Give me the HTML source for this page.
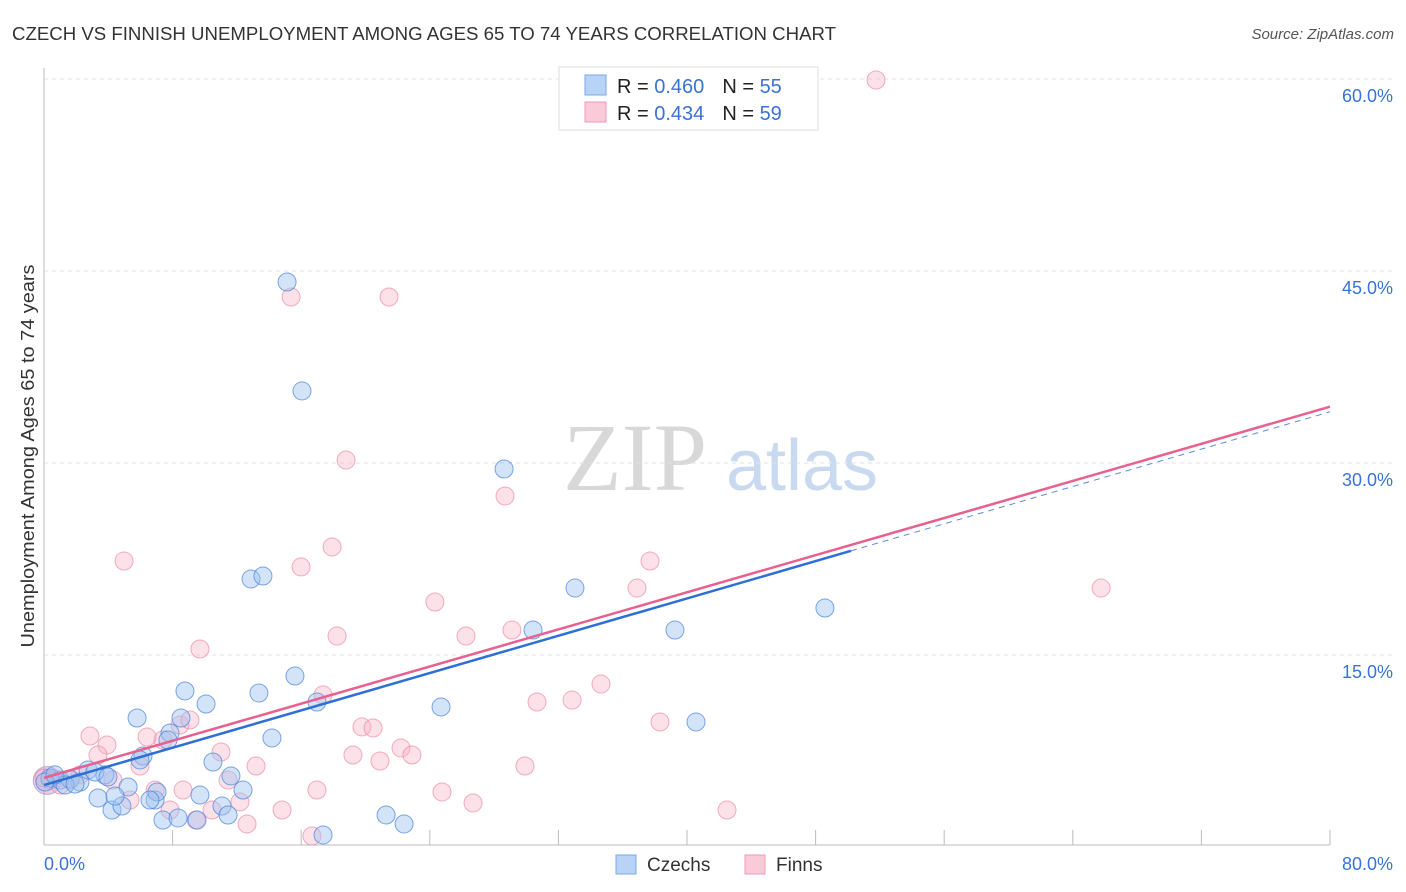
<!DOCTYPE html>
<html><head><meta charset="utf-8"><style>
body{margin:0;background:#fff;font-family:"Liberation Sans",sans-serif}
svg{display:block}
</style></head><body>
<svg width="1406" height="892" viewBox="0 0 1406 892">
<text x="12" y="40" font-size="18" fill="#333" textLength="824" lengthAdjust="spacingAndGlyphs">CZECH VS FINNISH UNEMPLOYMENT AMONG AGES 65 TO 74 YEARS CORRELATION CHART</text>
<text x="1394" y="39" font-size="15" fill="#555" font-style="italic" text-anchor="end">Source: ZipAtlas.com</text>
<g>
<text x="635" y="490" font-size="96" font-family="Liberation Serif,serif" fill="#d8d8d8" text-anchor="middle">ZIP</text>
<text x="802" y="490" font-size="72" fill="#c9d9f0" text-anchor="middle">atlas</text>
</g>
<g id="grid"></g>
<g id="axes"></g>
<g id="marks"></g>
<text transform="translate(34,456) rotate(-90)" font-size="18" fill="#333" text-anchor="middle" textLength="383" lengthAdjust="spacingAndGlyphs">Unemployment Among Ages 65 to 74 years</text>
<g>
<rect x="559" y="67" width="259" height="63" fill="#fff" stroke="#ddd"/>
<rect x="585" y="75" width="21" height="20" fill="#b8d3f5" stroke="#7aa7e6"/>
<rect x="585" y="102" width="21" height="20" fill="#fbcad8" stroke="#f09ab4"/>
<text x="617" y="93" font-size="20" fill="#222">R = <tspan fill="#3a72d8">0.460</tspan><tspan dx="18">N = </tspan><tspan fill="#3a72d8">55</tspan></text>
<text x="617" y="120" font-size="20" fill="#222">R = <tspan fill="#3a72d8">0.434</tspan><tspan dx="18">N = </tspan><tspan fill="#3a72d8">59</tspan></text>
</g>
<g>
<rect x="616" y="855" width="20" height="19" fill="#b8d3f5" stroke="#7aa7e6"/>
<text x="647" y="871" font-size="19" fill="#333">Czechs</text>
<rect x="745" y="855" width="20" height="19" fill="#fbcad8" stroke="#f09ab4"/>
<text x="776" y="871" font-size="19" fill="#333">Finns</text>
</g>
</svg>
<script>
const yTicks=[15,30,45,60];
const yTickLabels=["15.0%","30.0%","45.0%","60.0%"];
const xTicks=[8,16,24,32,40,48,56,64,72,80];
const xEndLabels=["0.0%","80.0%"];
const czechX=[0.37,1.0,1.62,2.24,2.74,3.36,3.79,4.23,4.85,5.23,5.79,6.16,6.91,7.03,7.4,7.84,8.34,8.77,8.52,9.52,9.7,10.08,10.51,11.07,11.45,11.63,12.38,12.88,13.62,13.37,14.18,15.12,15.61,16.05,16.98,17.36,21.28,22.4,24.7,28.62,30.42,33.03,39.25,40.56,48.58,1.31,1.93,3.17,3.98,4.42,5.97,7.71,6.59,0.06,0.68];
const czechY=[5.39,5.23,5.31,5.08,6.02,3.83,5.63,2.89,3.2,4.69,10.08,7.11,3.67,4.3,2.11,8.91,2.27,12.19,10.08,2.11,4.06,11.17,6.64,3.2,2.5,5.55,4.45,20.94,21.17,12.03,8.52,44.14,13.36,35.63,11.33,0.94,2.5,1.8,10.94,29.53,16.95,20.23,16.95,9.77,18.67,4.84,4.92,5.86,5.47,3.98,6.8,8.36,3.67,5.08,5.63];
const finnX=[51.76,15.37,21.46,18.79,28.68,4.98,17.92,15.99,37.7,36.89,65.76,24.32,18.23,26.25,29.11,9.7,34.65,32.85,30.67,38.32,17.36,19.78,20.47,22.21,22.89,19.22,20.9,29.92,24.76,26.69,42.49,16.98,14.81,16.67,12.63,12.19,11.45,11.01,13.19,10.45,9.46,8.65,7.84,7.4,8.46,6.41,5.97,5.35,3.92,3.36,2.86,4.29,2.24,1.62,1.0,0.37,0,6.91,9.08];
const finnY=[59.92,42.97,42.97,30.23,27.42,22.34,23.44,21.88,22.34,20.23,20.23,19.14,16.48,16.48,16.95,15.47,12.73,11.48,11.33,9.77,11.88,9.38,9.3,7.73,7.19,7.19,6.72,6.33,4.3,3.44,2.89,4.45,2.89,0.86,1.8,3.52,5.23,7.42,6.33,2.89,2.11,4.45,2.89,8.36,9.53,8.59,6.33,3.67,7.97,7.19,8.67,5.23,5.63,5.23,4.84,5.23,5.39,4.45,9.92];
const czechTrend=[4.84,34.0];
const finnTrend=[5.4,34.4];
const czechSolidEnd=50.2;

const NS="http://www.w3.org/2000/svg";
const X=v=>44+v/80*1286, Y=v=>847-v*12.8;
function mk(tag,attrs,parent){const e=document.createElementNS(NS,tag);for(const k in attrs)e.setAttribute(k,attrs[k]);parent.appendChild(e);return e;}
const grid=document.getElementById('grid'),axes=document.getElementById('axes'),marks=document.getElementById('marks');
yTicks.forEach((t,i)=>{
  const l=mk('line',{x1:44,x2:1392,y1:Y(t),y2:Y(t),stroke:'#e2e2e2','stroke-dasharray':'4,4'},grid);
  
  
  const tx=mk('text',{x:1393,y:Y(t)+23,'font-size':18,fill:'#3a72d8','text-anchor':'end'},axes);
  tx.textContent=yTickLabels[i];
  
  
});
let a=mk('line',{x1:44,x2:44,y1:68,y2:845,stroke:'#bbb'},axes);


a=mk('line',{x1:44,x2:1330,y1:845,y2:845,stroke:'#bbb'},axes);


xTicks.forEach(t=>{
  const l=mk('line',{x1:X(t),x2:X(t),y1:830,y2:845,stroke:'#bbb'},axes);
  
  
});
let t0=mk('text',{x:44,y:870,'font-size':18,fill:'#3a72d8'},axes);t0.textContent=xEndLabels[0];


let t1=mk('text',{x:1393,y:870,'font-size':18,fill:'#3a72d8','text-anchor':'end'},axes);t1.textContent=xEndLabels[1];


let big=mk('circle',{cx:X(0.2),cy:Y(5.2),r:14,fill:'rgba(200,160,210,0.5)',stroke:'rgba(180,130,200,0.6)'},marks);


finnX.forEach((x,i)=>{
  const c=mk('circle',{cx:X(x),cy:Y(finnY[i]),r:9,fill:'rgba(248,180,200,0.4)',stroke:'rgba(236,130,160,0.65)','stroke-width':1},marks);
  
  
});
czechX.forEach((x,i)=>{
  const c=mk('circle',{cx:X(x),cy:Y(czechY[i]),r:9,fill:'rgba(160,195,240,0.45)',stroke:'rgba(70,130,220,0.7)','stroke-width':1},marks);
  
  
});
const cy=v=>czechTrend[0]+(czechTrend[1]-czechTrend[0])*v/80;
let l=mk('line',{x1:X(czechSolidEnd),y1:Y(cy(czechSolidEnd)),x2:X(80),y2:Y(cy(80)),stroke:'#5a8be0','stroke-width':1,'stroke-dasharray':'6,5'},marks);


l=mk('line',{x1:X(0),y1:Y(finnTrend[0]),x2:X(80),y2:Y(finnTrend[1]),stroke:'#e8608f','stroke-width':2.5},marks);


l=mk('line',{x1:X(0),y1:Y(cy(0)),x2:X(czechSolidEnd),y2:Y(cy(czechSolidEnd)),stroke:'#2e6fd6','stroke-width':2.5},marks);


</script>
</body></html>
